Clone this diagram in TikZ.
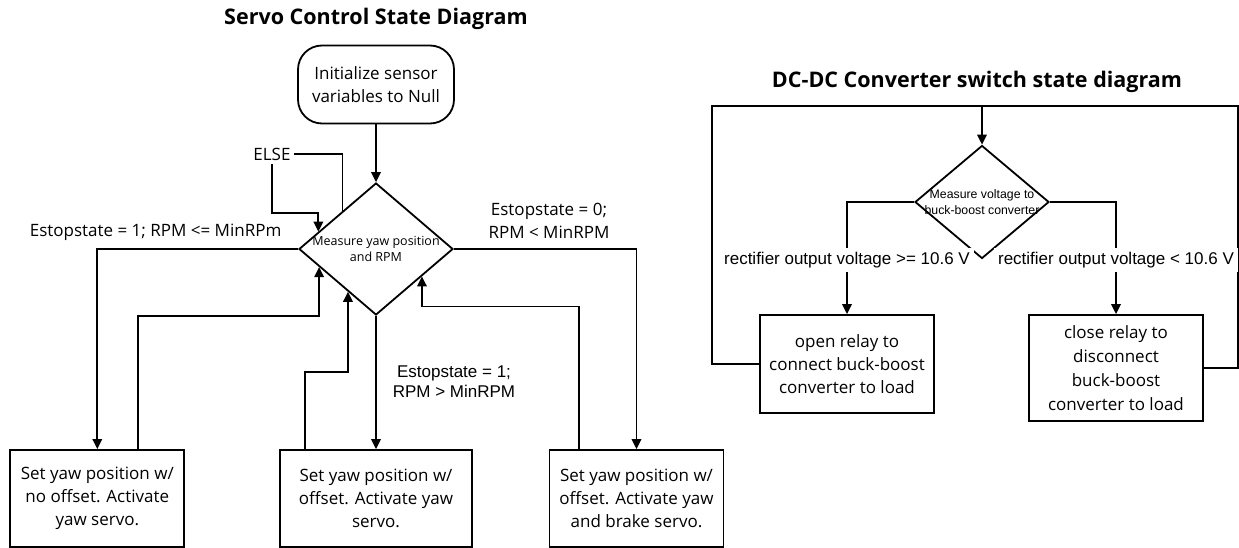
\documentclass[tikz,border=0pt]{standalone}
\usepackage{fontspec}
\setmainfont{Open Sans}
\newfontfamily\arialfont{Liberation Sans}
\usetikzlibrary{shapes.geometric,arrows.meta,calc}

\begin{document}
\begin{tikzpicture}[
    x=1pt, y=-1pt,
    line width=1.8pt,
    box/.style={draw, rectangle, minimum width=174pt, minimum height=97pt, inner sep=0pt, align=center, font=\fontsize{17}{23}\selectfont},
    startbox/.style={box, rounded corners=24pt, minimum width=156pt, minimum height=78pt},
    decision/.style={draw, diamond, inner sep=0pt},
    flow/.style={-{Triangle[length=10pt,width=9.5pt]}},
    lbl/.style={font=\fontsize{17}{23}\selectfont, align=center, inner sep=0pt},
    albl/.style={font=\arialfont\fontsize{17}{20}\selectfont, align=center, inner sep=1pt},
    heading/.style={font=\bfseries\fontsize{21.5}{26}\selectfont}
]
\useasboundingbox (0,0) rectangle (1239,548);

% servo control
\node[heading] (servotitle) at (376,19) {Servo Control State Diagram};
\node[startbox] (init) at (376,84.5) {Initialize sensor\\variables to Null};
\node[decision, minimum width=154pt, minimum height=132pt,
      label={[lbl, font=\fontsize{12.5}{16}\selectfont]center:Measure yaw position\\and RPM}] (meas) at (376,249) {};

\node[box] (nooff) at (97.3,498.5) {Set yaw position w/\\no offset. Activate\\yaw servo.};
\node[box, minimum width=192pt] (off) at (376,498.5) {Set yaw position w/\\offset. Activate yaw\\servo.};
\node[box] (brake) at (636.5,498.5) {Set yaw position w/\\offset. Activate yaw\\and brake servo.};

\node[lbl, inner sep=3pt] (else) at (272,154) {ELSE};
\node[lbl] (cond1) at (155.6,232) {Estopstate = 1; RPM <= MinRPm};
\node[lbl] (cond0) at (549,220.5) {Estopstate = 0;\\RPM < MinRPM};
\node[albl] (cond2) at (454,382) {Estopstate = 1;\\RPM > MinRPM};

\coordinate (elseout) at ($(meas.north)!0.43!(meas.west)$);
\coordinate (elsein) at ($(meas.north)!0.74!(meas.west)$);
\coordinate (ret1) at ($(meas.west)!0.27!(meas.south)$);
\coordinate (ret2) at ($(meas.west)!0.64!(meas.south)$);
\coordinate (ret3) at ($(meas.south)!0.59!(meas.east)$);

\draw[flow] (init.south) -- (meas.north);
\draw (elseout) |- (else.east);
\draw[flow] (else.south) |- ([yshift=19pt]elsein) -- (elsein);
\draw[flow] (meas.west) -| (nooff.north);
\draw[flow] (meas.east) -| (brake.north);
\draw[flow] (meas.south) -- (off.north);
\draw[flow] ([xshift=41pt]nooff.north) |- ([yshift=-49pt]ret1) -- (ret1);
\draw[flow] ([xshift=-71pt]off.north) |- ([yshift=-80pt]ret2) -- (ret2);
\draw[flow] ([xshift=-57.5pt]brake.north) |- ([yshift=-30pt]ret3) -- (ret3);

% dc-dc converter
\node[heading] (dctitle) at (977,82) {DC-DC Converter switch state diagram};
\node[decision, minimum width=134pt, minimum height=113pt,
      label={[albl, font=\arialfont\fontsize{12.3}{16}\selectfont]center:Measure voltage to\\buck-boost converter}] (volt) at (982,202) {};
\node[box, minimum height=98pt] (openrelay) at (847,364) {open relay to\\connect buck-boost\\converter to load};
\node[box, minimum height=106pt, font=\fontsize{17}{24}\selectfont] (closerelay) at (1116,368) {close relay to\\disconnect\\buck-boost\\converter to load};

\coordinate (topleft) at (712,106);
\coordinate (topright) at (1238,106);

\draw (openrelay.west) -| (topleft) -- (topright) |- (closerelay.east);
\draw[flow] (volt.north |- topleft) -- (volt.north);
\draw[flow] (volt.west) -| (openrelay.north)
    node[albl, fill=white, inner sep=4pt, pos=0.76] (geq) {rectifier output voltage >= 10.6 V};
\draw[flow] (volt.east) -| (closerelay.north)
    node[albl, fill=white, inner sep=4pt, pos=0.76] (lt) {rectifier output voltage < 10.6 V};

\end{tikzpicture}
\end{document}
